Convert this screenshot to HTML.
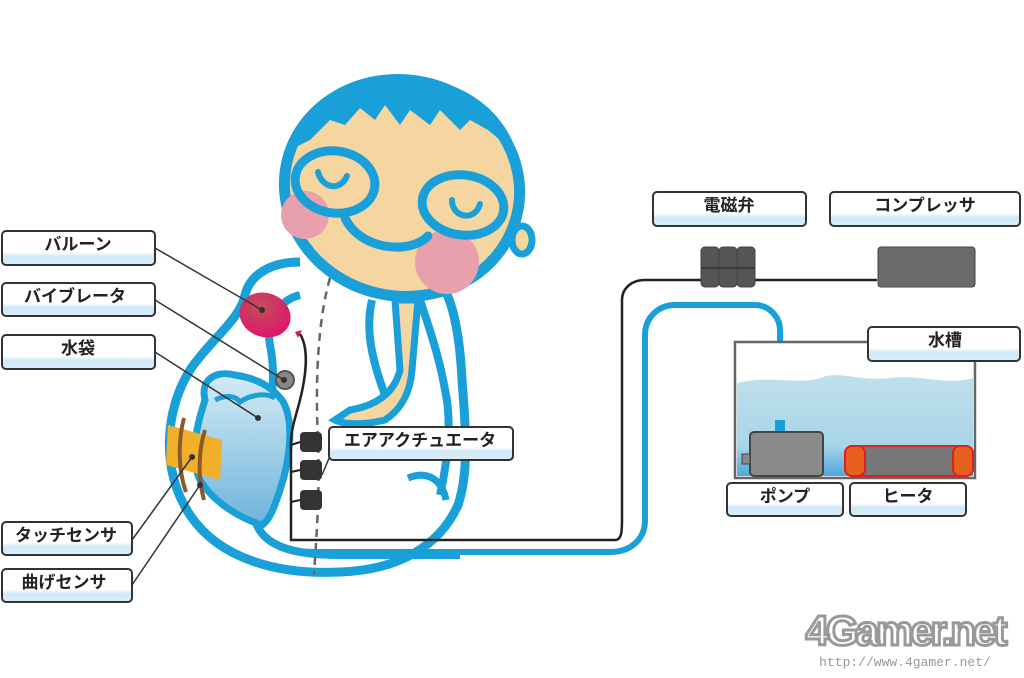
<!DOCTYPE html>
<html><head><meta charset="utf-8"><style>
html,body{margin:0;padding:0;background:#fff}
svg{display:block}
text{font-family:"Liberation Sans","Noto Sans CJK JP",sans-serif;font-weight:bold;font-size:17px;fill:#222}
</style></head><body>
<svg width="1024" height="678" viewBox="0 0 1024 678" xmlns="http://www.w3.org/2000/svg">
<defs>
<linearGradient id="lb" x1="0" y1="0" x2="0" y2="1">
<stop offset="0" stop-color="#fff"/><stop offset="0.62" stop-color="#fff"/><stop offset="0.75" stop-color="#cfe9f8"/><stop offset="1" stop-color="#d9eefa"/>
</linearGradient>
<linearGradient id="wb" x1="0" y1="0" x2="0" y2="1">
<stop offset="0" stop-color="#d4ecf5"/><stop offset="1" stop-color="#6fb3db"/>
</linearGradient>
<linearGradient id="tank" x1="0" y1="0" x2="0" y2="1">
<stop offset="0" stop-color="#bfe0ea"/><stop offset="0.7" stop-color="#a8d6e8"/><stop offset="1" stop-color="#4ea8dd"/>
</linearGradient>
<radialGradient id="bal" cx="0.35" cy="0.35" r="0.7">
<stop offset="0" stop-color="#c0505a"/><stop offset="1" stop-color="#e0156a"/>
</radialGradient>
</defs>

<!-- body outer -->
<path d="M300 262 C270 262 250 275 245 295 C240 320 210 340 190 370 C165 410 160 470 190 515 C220 560 280 575 340 572 C400 570 440 545 458 505 C470 470 465 420 462 380 C460 340 455 310 445 290" fill="none" stroke="#1aa0d9" stroke-width="9"/>
<!-- inner body loop -->
<path d="M255 520 C245 495 250 470 260 440 C275 400 275 370 270 345 C265 320 280 300 300 295" fill="none" stroke="#1aa0d9" stroke-width="8"/>
<path d="M255 520 C262 545 290 555 340 555 L460 555" fill="none" stroke="#1aa0d9" stroke-width="8"/>
<!-- water bag -->
<path d="M205 400 C200 380 215 370 235 375 C255 378 270 385 282 400 C295 420 290 460 280 490 C275 505 270 520 262 525 C245 520 215 505 200 480 C190 460 195 430 205 400 Z" fill="url(#wb)" stroke="#1aa0d9" stroke-width="7"/>
<path d="M215 400 C225 395 235 395 240 402 C250 395 265 392 275 398" fill="none" stroke="#1aa0d9" stroke-width="5"/>
<!-- touch sensor -->
<polygon points="168,425 222,440 220,480 166,465" fill="#f2b02a"/>
<path d="M184 418 C178 440 178 470 186 492" fill="none" stroke="#8a5a2a" stroke-width="4"/>
<path d="M205 430 C198 452 198 478 204 500" fill="none" stroke="#8a5a2a" stroke-width="4"/>
<!-- arm / shirt -->
<path d="M372 300 C365 330 372 360 385 395 M420 300 C430 330 440 360 445 390 C452 420 448 460 440 495" fill="none" stroke="#1aa0d9" stroke-width="8"/>
<path d="M395 300 L400 370 C395 390 380 405 350 410 L335 420 C345 425 365 425 385 420 C400 410 410 395 412 370 L418 300 Z" fill="#f5d5a0" stroke="#1aa0d9" stroke-width="7"/>
<path d="M408 478 C428 470 442 480 446 500" fill="none" stroke="#1aa0d9" stroke-width="7"/>
<!-- dashed spine -->
<path d="M330 278 C318 320 315 380 318 440 C320 500 316 540 314 575" fill="none" stroke="#666" stroke-width="2.5" stroke-dasharray="8 6"/>

<!-- head -->
<ellipse cx="402" cy="188" rx="118" ry="108" transform="rotate(12 402 188)" fill="#f5d5a0" stroke="#1aa0d9" stroke-width="11"/>
<path d="M290 150 C310 95 370 72 420 78 C470 84 510 115 520 165 L505 150 L500 140 L488 130 L470 120 L460 130 L440 110 L430 125 L410 110 L400 125 L385 105 L375 120 L360 108 L345 125 L330 120 L310 140 Z" fill="#1aa0d9"/>
<ellipse cx="522" cy="240" rx="10" ry="14" fill="#f5d5a0" stroke="#1aa0d9" stroke-width="7"/>
<circle cx="305" cy="215" r="24" fill="#e8a0ac"/>
<circle cx="447" cy="262" r="32" fill="#e8a0ac"/>
<ellipse cx="335" cy="182" rx="40" ry="31" transform="rotate(8 335 182)" fill="none" stroke="#1aa0d9" stroke-width="9"/>
<ellipse cx="463" cy="205" rx="41" ry="30" transform="rotate(8 463 205)" fill="none" stroke="#1aa0d9" stroke-width="9"/>
<path d="M318 172 C322 188 340 192 347 176" fill="none" stroke="#1aa0d9" stroke-width="6" stroke-linecap="round"/>
<path d="M452 200 C452 218 475 222 480 204" fill="none" stroke="#1aa0d9" stroke-width="6" stroke-linecap="round"/>
<path d="M345 218 C360 250 410 255 428 236" fill="none" stroke="#1aa0d9" stroke-width="9" stroke-linecap="round"/>

<!-- balloon -->
<ellipse cx="265" cy="315" rx="26" ry="22" transform="rotate(20 265 315)" fill="url(#bal)"/>
<path d="M295 332 L302 330 L298 338 Z" fill="#e0156a"/>
<path d="M300 334 C310 350 305 380 300 400 C295 420 290 430 291 450 L291 540 L615 540 C622 540 622 530 622 520 L622 300 C622 288 632 280 645 280 L877 280" fill="none" stroke="#222" stroke-width="2.5"/>
<!-- vibrator -->
<circle cx="285" cy="380" r="9" fill="#888" stroke="#555" stroke-width="2"/>
<!-- actuators -->
<g fill="#333">
<rect x="300" y="432" width="22" height="20" rx="4"/>
<rect x="300" y="460" width="22" height="20" rx="4"/>
<rect x="300" y="490" width="22" height="20" rx="4"/>
</g>
<path d="M291 445 L300 442 M291 472 L300 470 M291 502 L300 500" stroke="#222" stroke-width="2"/>

<!-- blue tube -->
<path d="M270 540 C280 552 300 552 320 552 L610 552 C630 552 645 540 645 520 L645 335 C645 318 658 305 675 305 L755 305 C770 305 780 318 780 330 L780 420" fill="none" stroke="#1aa0d9" stroke-width="6"/>

<!-- leader lines -->
<g stroke="#333" stroke-width="1.5">
<line x1="155" y1="248" x2="262" y2="310"/>
<line x1="155" y1="300" x2="284" y2="380"/>
<line x1="155" y1="352" x2="258" y2="418"/>
<line x1="132" y1="540" x2="192" y2="457"/>
<line x1="132" y1="585" x2="200" y2="485"/>
<line x1="322" y1="475" x2="335" y2="444"/>
<line x1="975" y1="361" x2="975" y2="380"/>
</g>
<g fill="#333"><circle cx="262" cy="310" r="3"/><circle cx="284" cy="380" r="3"/><circle cx="258" cy="418" r="3"/><circle cx="192" cy="457" r="3"/><circle cx="200" cy="485" r="3"/></g>

<!-- solenoid valves -->
<g fill="#555" stroke="#444">
<rect x="701" y="247" width="18" height="40" rx="4"/><rect x="719" y="247" width="18" height="40" rx="4"/><rect x="737" y="247" width="18" height="40" rx="4"/>
</g>
<line x1="701" y1="268" x2="755" y2="268" stroke="#333" stroke-width="1.5"/>
<!-- compressor -->
<rect x="878" y="247" width="97" height="40" rx="3" fill="#6b6b6b" stroke="#444"/>

<!-- tank -->
<rect x="735" y="342" width="240" height="136" fill="#fff" stroke="#666" stroke-width="2.5"/>
<path d="M737 383 C770 375 800 385 820 378 C840 370 860 382 890 378 C920 374 945 386 973 378 L973 476 L737 476 Z" fill="url(#tank)"/>
<!-- pump -->
<rect x="775" y="420" width="10" height="14" fill="#1aa0d9"/>
<rect x="750" y="432" width="73" height="44" rx="4" fill="#8a8a8a" stroke="#444" stroke-width="2"/>
<rect x="742" y="454" width="8" height="10" fill="#888" stroke="#444"/>
<!-- heater -->
<rect x="845" y="446" width="128" height="30" rx="8" fill="#777" stroke="#e02020" stroke-width="2"/>
<rect x="845" y="446" width="20" height="30" rx="7" fill="#e86020" stroke="#e02020" stroke-width="2"/>
<rect x="953" y="446" width="20" height="30" rx="7" fill="#e86020" stroke="#e02020" stroke-width="2"/>

<!-- label boxes -->
<g stroke="#333" stroke-width="2" fill="url(#lb)">
<rect x="2" y="231" width="153" height="34" rx="4"/>
<rect x="2" y="283" width="153" height="33" rx="4"/>
<rect x="2" y="335" width="153" height="34" rx="4"/>
<rect x="2" y="522" width="130" height="33" rx="4"/>
<rect x="2" y="569" width="130" height="33" rx="4"/>
<rect x="329" y="427" width="184" height="33" rx="4"/>
<rect x="653" y="192" width="153" height="34" rx="4"/>
<rect x="830" y="192" width="190" height="34" rx="4"/>
<rect x="868" y="327" width="152" height="34" rx="4"/>
<rect x="727" y="483" width="116" height="33" rx="4"/>
<rect x="850" y="483" width="116" height="33" rx="4"/>
</g>
<g text-anchor="middle">
<text x="78" y="250">バルーン</text>
<text x="75" y="302">バイブレータ</text>
<text x="78" y="354">水袋</text>
<text x="66" y="541">タッチセンサ</text>
<text x="64" y="588">曲げセンサ</text>
<text x="420" y="446">エアアクチュエータ</text>
<text x="729" y="211">電磁弁</text>
<text x="925" y="211">コンプレッサ</text>
<text x="945" y="346">水槽</text>
<text x="785" y="502">ポンプ</text>
<text x="908" y="502">ヒータ</text>
</g>
<!-- logo -->
<text x="905" y="645" text-anchor="middle" style="font-size:42px;fill:#fff;stroke:#999;stroke-width:3;letter-spacing:-3px">4Gamer.net</text>
<text x="905" y="666" text-anchor="middle" style="font-size:13px;font-weight:normal;fill:#999;font-family:'Liberation Mono',monospace">http://www.4gamer.net/</text>
</svg>
</body></html>
